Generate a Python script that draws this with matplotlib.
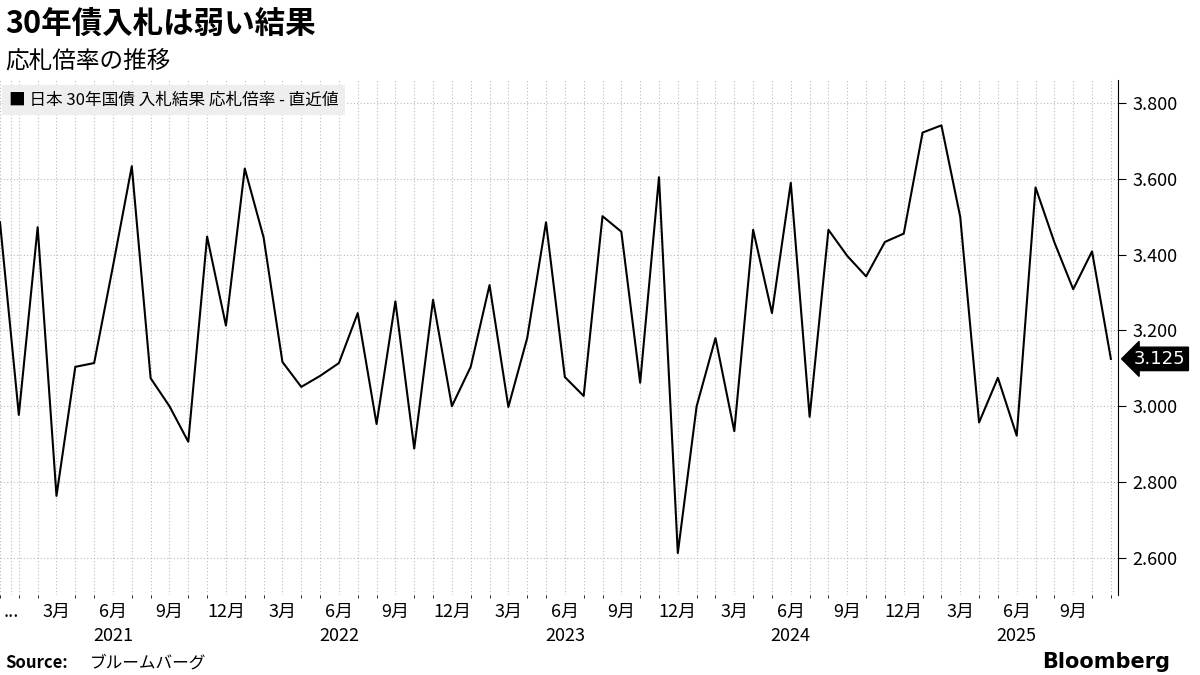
import matplotlib
matplotlib.use("Agg")
import matplotlib.pyplot as plt
from matplotlib.ticker import MultipleLocator, FixedLocator

plt.rcParams['font.family'] = ['Noto Sans CJK JP', 'DejaVu Sans']

# monthly, Dec 2020 .. Nov 2025
values = [3.486, 2.977, 3.473, 2.763, 3.104, 3.114, 3.37, 3.634, 3.074, 3.00,
          2.906, 3.448, 3.213, 3.628, 3.446, 3.117, 3.051, 3.08, 3.114, 3.246,
          2.953, 3.277, 2.888, 3.281, 3.00, 3.104, 3.32, 2.998, 3.18, 3.486,
          3.077, 3.027, 3.502, 3.461, 3.062, 3.605, 2.612, 3.00, 3.18, 2.934,
          3.466, 3.246, 3.590, 2.972, 3.466, 3.397, 3.343, 3.434, 3.456, 3.723,
          3.742, 3.500, 2.957, 3.075, 2.922, 3.578, 3.433, 3.309, 3.409, 3.125]
years = ['2021', '2022', '2023', '2024', '2025']
month_labels = ['3月', '6月', '9月', '12月']

fig = plt.figure(figsize=(12, 6.75), dpi=100)
ax = fig.add_axes([0.0, 0.119, 0.932, 0.762])
x = list(range(len(values)))
ax.plot(x, values, color='black', lw=1.5)
ax.set_xlim(0, 59.4)
ax.set_ylim(2.502, 3.861)

ax.yaxis.tick_right()
ax.yaxis.set_major_locator(MultipleLocator(0.2))
ax.yaxis.set_major_formatter(matplotlib.ticker.FuncFormatter(lambda v, p: f"{v:.3f}"))
ax.tick_params(axis='y', length=6, labelsize=13, pad=4)
ax.xaxis.set_minor_locator(FixedLocator(x))
ax.grid(True, which='both', axis='x', linestyle=(0, (1, 2)), color='#bbbbbb', lw=0.8)
ax.grid(True, which='major', axis='y', linestyle=(0, (1, 2)), color='#bbbbbb', lw=0.8)
for s in ['top', 'left', 'bottom']:
    ax.spines[s].set_visible(False)

ticks, labels = [0.6], ['...']
for k in range(5):
    for j, m in enumerate(month_labels):
        pos = 3 + 12 * k + 3 * j
        if pos < len(values):
            ticks.append(pos)
            labels.append(m + ('\n' + years[k] if j == 1 else ''))
ax.set_xticks(ticks)
ax.set_xticklabels(labels, fontsize=13, va='top', linespacing=1.4)
ax.tick_params(axis='x', length=0, pad=6)

# last value tag
ax.annotate(f"{values[-1]:.3f}", xy=(1.0, values[-1]), xycoords=('axes fraction', 'data'),
            xytext=(1.014, values[-1]), textcoords=('axes fraction', 'data'),
            fontsize=13, color='white', va='center', ha='left', family='DejaVu Sans',
            bbox=dict(boxstyle='larrow,pad=0.15', fc='black', ec='black'))

ax.text(0.008, 0.962, '■ 日本 30年国債 入札結果 応札倍率 - 直近値', transform=ax.transAxes,
        fontsize=12, va='center', ha='left',
        bbox=dict(boxstyle='square,pad=0.4', fc='#eeeeee', ec='none'))

fig.text(0.004, 0.965, '30年債入札は弱い結果', fontsize=22, weight='bold', va='center')
fig.text(0.004, 0.91, '応札倍率の推移', fontsize=17, va='center')
fig.text(0.004, 0.005, 'Source:', fontsize=12, weight='bold', va='bottom')
fig.text(0.075, 0.005, 'ブルームバーグ', fontsize=12, va='bottom')
fig.text(0.975, 0.005, 'Bloomberg', fontsize=15, weight='bold', va='bottom', ha='right',
         family='DejaVu Sans')
fig.savefig('out.png', dpi=100)
